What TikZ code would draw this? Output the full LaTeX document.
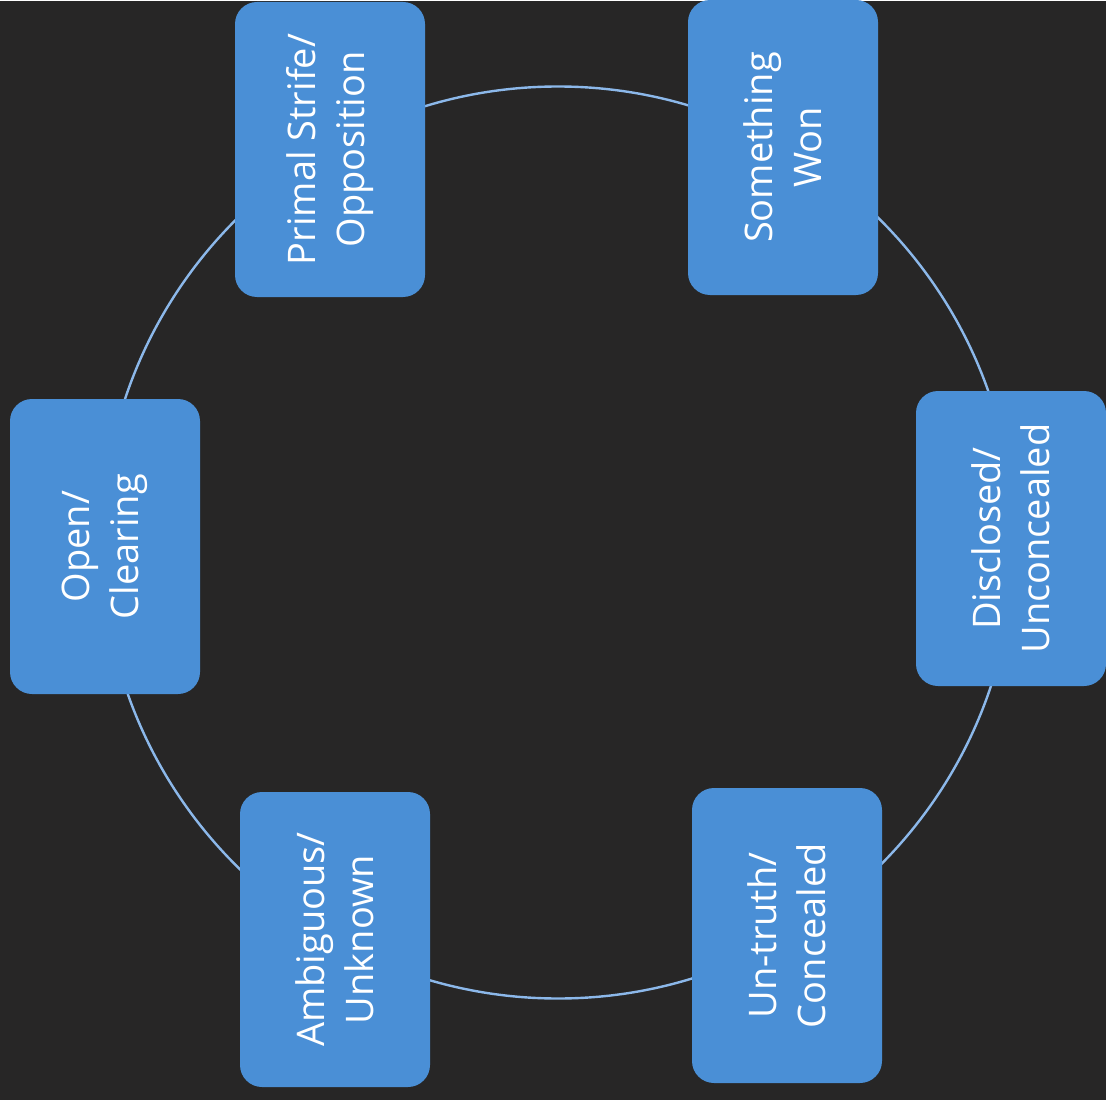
\documentclass[tikz,border=0pt]{standalone}
\usepackage{fontspec}
\setmainfont{Open Sans}
\usetikzlibrary{positioning}

\definecolor{bgdark}{HTML}{272626}
\definecolor{boxblue}{HTML}{4A8FD6}
\definecolor{ringblue}{HTML}{8CB8EA}

\begin{document}
\begin{tikzpicture}[
        x=1pt, y=-1pt,
        stage/.style={
            rectangle, rounded corners=22pt, fill=boxblue,
            rotate=90, minimum width=295pt, minimum height=190pt,
            inner sep=0pt, text=white, align=center,
            font=\fontsize{38}{49}\selectfont
        },
        ring/.style={ringblue, line width=2.4pt}
      ]

  \fill[bgdark] (0,0) rectangle (1106,1098);

  \coordinate (mid) at (558,541);
  \draw[ring] (mid) circle[radius=456pt];

  \node   (strife)    [stage] at (330,148) {Primal Strife/\\Opposition};
  \node   (won)       [stage] at (783,146) {Something\\Won};
  \node   (open)      [stage] at (105,545) {Open/\\Clearing};
  \node   (disclosed) [stage] at (1011,537) {Disclosed/\\Unconcealed};
  \node   (ambiguous) [stage] at (335,938) {Ambiguous/\\Unknown};
  \node   (untruth)   [stage] at (787,934) {Un-truth/\\Concealed};

\end{tikzpicture}
\end{document}
